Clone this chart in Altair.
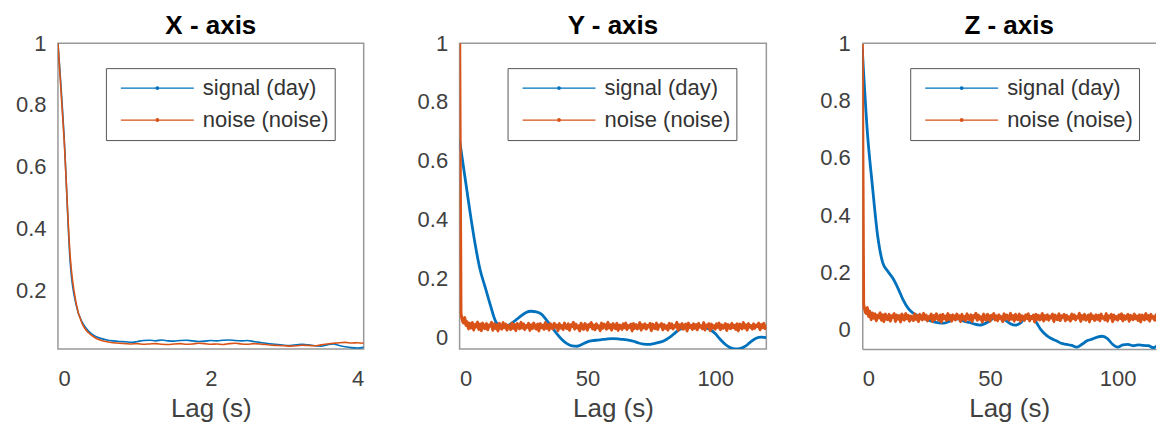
import altair as alt
import pandas as pd

FONT = "Liberation Sans"
BLUE = "#0072BD"
ORANGE = "#D95319"
SERIES = ["signal (day)", "noise (noise)"]

# ---------- X - axis panel (lag step 0.08 s) ----------
x_step = 0.08
x_signal = [
    1.00, 0.70, 0.29, 0.15, 0.095, 0.068, 0.052, 0.044, 0.039, 0.036,
    0.034, 0.033, 0.031, 0.034, 0.037, 0.038, 0.036, 0.039, 0.036, 0.035,
    0.037, 0.038, 0.036, 0.034, 0.035, 0.037, 0.036, 0.038, 0.039, 0.037,
    0.036, 0.037, 0.034, 0.031, 0.028, 0.026, 0.024, 0.022, 0.021, 0.023,
    0.025, 0.023, 0.020, 0.019, 0.023, 0.026, 0.021, 0.017, 0.014, 0.013,
    0.015,
]
x_noise = [
    1.00, 0.69, 0.31, 0.155, 0.090, 0.062, 0.047, 0.038, 0.033, 0.030,
    0.028, 0.027, 0.026, 0.027, 0.025, 0.026, 0.027, 0.025, 0.024, 0.026,
    0.027, 0.025, 0.026, 0.028, 0.027, 0.025, 0.026, 0.024, 0.027, 0.028,
    0.026, 0.025, 0.027, 0.026, 0.024, 0.022, 0.021, 0.020, 0.019, 0.020,
    0.022, 0.021, 0.020, 0.023, 0.026, 0.028, 0.030, 0.031, 0.029, 0.030,
    0.028,
]

# ---------- Y - axis panel ----------
y_sig_step = 2
y_signal = [
    0.67, 0.55, 0.43, 0.32, 0.23, 0.17, 0.11, 0.055, 0.035, 0.035,
    0.045, 0.058, 0.072, 0.084, 0.088, 0.086, 0.078, 0.058, 0.035, 0.012,
    -0.008, -0.022, -0.030, -0.031, -0.024, -0.016, -0.012, -0.010, -0.008, -0.006,
    -0.005, -0.006, -0.008, -0.010, -0.014, -0.020, -0.024, -0.025, -0.022, -0.018,
    -0.012, -0.002, 0.012, 0.026, 0.033, 0.036, 0.037, 0.036, 0.033, 0.026,
    0.012, -0.008, -0.025, -0.036, -0.040, -0.038, -0.030, -0.015, -0.004, 0.000,
    -0.002,
]
y_noise_step = 0.5
y_noise = [
    1.0, 0.082, 0.061, 0.048, 0.066, 0.039, 0.052, 0.028, 0.047, 0.031,
    0.049, 0.024, 0.043, 0.035, 0.051, 0.026, 0.044, 0.022, 0.048, 0.033,
    0.029, 0.046, 0.025, 0.041, 0.037, 0.050, 0.023, 0.045, 0.030, 0.042,
    0.021, 0.047, 0.034, 0.027, 0.049, 0.032, 0.044, 0.024, 0.040, 0.036,
    0.026, 0.048, 0.030, 0.043, 0.022, 0.046, 0.038, 0.028, 0.050, 0.031,
    0.045, 0.025, 0.039, 0.033, 0.047, 0.023, 0.042, 0.029, 0.048, 0.035,
    0.027, 0.044, 0.021, 0.046, 0.032, 0.040, 0.026, 0.049, 0.030, 0.043,
    0.024, 0.045, 0.037, 0.028, 0.047, 0.033, 0.041, 0.022, 0.046, 0.031,
    0.039, 0.025, 0.048, 0.034, 0.029, 0.045, 0.023, 0.042, 0.036, 0.050,
    0.027, 0.044, 0.031, 0.038, 0.021, 0.047, 0.033, 0.026, 0.046, 0.040,
    0.024, 0.043, 0.035, 0.049, 0.028, 0.041, 0.025, 0.045, 0.032, 0.038,
    0.022, 0.048, 0.030, 0.044, 0.036, 0.027, 0.050, 0.031, 0.042, 0.024,
    0.046, 0.034, 0.029, 0.047, 0.023, 0.041, 0.037, 0.026, 0.045, 0.032,
    0.048, 0.025, 0.039, 0.033, 0.044, 0.021, 0.046, 0.030, 0.043, 0.028,
    0.036, 0.049, 0.024, 0.042, 0.031, 0.045, 0.027, 0.040, 0.035, 0.047,
    0.022, 0.044, 0.033, 0.029, 0.048, 0.026, 0.041, 0.037, 0.046, 0.025,
    0.043, 0.030, 0.038, 0.024, 0.047, 0.032, 0.045, 0.028, 0.039, 0.035,
    0.050, 0.023, 0.042, 0.031, 0.046, 0.027, 0.036, 0.044, 0.021, 0.048,
    0.033, 0.040, 0.026, 0.045, 0.030, 0.043, 0.025, 0.047, 0.034, 0.038,
    0.028, 0.049, 0.024, 0.041, 0.036, 0.046, 0.022, 0.044, 0.031, 0.039,
    0.027, 0.045, 0.033, 0.048, 0.025, 0.042, 0.030, 0.037, 0.046, 0.023,
    0.043, 0.035, 0.029, 0.047, 0.032, 0.040, 0.026, 0.045, 0.021, 0.044,
    0.038, 0.028, 0.049, 0.031, 0.042, 0.024, 0.046, 0.034, 0.039, 0.027,
    0.045, 0.030, 0.041, 0.036, 0.048, 0.025, 0.043, 0.032, 0.047, 0.029,
    0.040,
]

# ---------- Z - axis panel ----------
z_sig_step = 2
z_signal = [
    0.98, 0.69, 0.50, 0.33, 0.235, 0.205, 0.18, 0.145, 0.105, 0.075,
    0.058, 0.050, 0.042, 0.034, 0.028, 0.025, 0.024, 0.030, 0.040, 0.038,
    0.030, 0.026, 0.020, 0.017, 0.022, 0.032, 0.045, 0.046, 0.034, 0.022,
    0.017, 0.025, 0.045, 0.047, 0.028, 0.000, -0.018, -0.030, -0.038, -0.047,
    -0.050, -0.054, -0.060, -0.050, -0.038, -0.032, -0.025, -0.022, -0.030, -0.050,
    -0.060, -0.052, -0.050, -0.055, -0.052, -0.054, -0.055, -0.062, -0.050, -0.030,
    -0.010,
]
z_noise_step = 0.5
z_noise = [
    1.0, 0.092, 0.071, 0.058, 0.078, 0.047, 0.065, 0.036, 0.059, 0.041,
    0.056, 0.032, 0.051, 0.043, 0.060, 0.034, 0.053, 0.029, 0.055, 0.040,
    0.036, 0.054, 0.031, 0.049, 0.044, 0.057, 0.030, 0.052, 0.038, 0.050,
    0.028, 0.055, 0.041, 0.034, 0.057, 0.039, 0.051, 0.031, 0.048, 0.043,
    0.033, 0.056, 0.037, 0.050, 0.029, 0.054, 0.045, 0.035, 0.058, 0.038,
    0.052, 0.032, 0.047, 0.040, 0.055, 0.030, 0.050, 0.036, 0.056, 0.042,
    0.034, 0.052, 0.028, 0.054, 0.039, 0.048, 0.033, 0.057, 0.037, 0.051,
    0.031, 0.053, 0.044, 0.035, 0.055, 0.040, 0.049, 0.029, 0.054, 0.038,
    0.047, 0.032, 0.056, 0.041, 0.036, 0.053, 0.030, 0.050, 0.043, 0.058,
    0.034, 0.052, 0.038, 0.046, 0.028, 0.055, 0.040, 0.033, 0.054, 0.048,
    0.031, 0.051, 0.042, 0.057, 0.035, 0.049, 0.032, 0.053, 0.039, 0.046,
    0.029, 0.056, 0.037, 0.052, 0.044, 0.034, 0.058, 0.038, 0.050, 0.031,
    0.054, 0.041, 0.036, 0.055, 0.030, 0.049, 0.045, 0.033, 0.053, 0.039,
    0.056, 0.032, 0.047, 0.040, 0.052, 0.028, 0.054, 0.037, 0.051, 0.035,
    0.043, 0.057, 0.031, 0.050, 0.038, 0.053, 0.034, 0.048, 0.042, 0.055,
    0.029, 0.052, 0.040, 0.036, 0.056, 0.033, 0.049, 0.044, 0.054, 0.032,
    0.051, 0.037, 0.046, 0.031, 0.055, 0.039, 0.053, 0.035, 0.047, 0.042,
    0.058, 0.030, 0.050, 0.038, 0.054, 0.034, 0.043, 0.052, 0.028, 0.056,
    0.040, 0.048, 0.033, 0.053, 0.037, 0.051, 0.032, 0.055, 0.041, 0.046,
    0.035, 0.057, 0.031, 0.049, 0.043, 0.054, 0.029, 0.052, 0.038, 0.047,
    0.034, 0.053, 0.040, 0.056, 0.032, 0.050, 0.037, 0.045, 0.054, 0.030,
    0.051, 0.042, 0.036, 0.055, 0.039, 0.048, 0.033, 0.053, 0.028, 0.052,
    0.046, 0.035, 0.057, 0.038, 0.050, 0.031, 0.054, 0.041, 0.047, 0.034,
    0.053, 0.037, 0.049, 0.043, 0.056, 0.032, 0.051, 0.039, 0.055, 0.036,
    0.048,
]


def frame(sig_step, sig, noise_step, noise):
    rows = []
    for i, v in enumerate(sig):
        rows.append({"lag": round(i * sig_step, 4), "value": v,
                     "series": SERIES[0], "kind": "s"})
    for i, v in enumerate(noise):
        rows.append({"lag": round(i * noise_step, 4), "value": v,
                     "series": SERIES[1], "kind": "n"})
    return pd.DataFrame(rows)


LEGEND_SYMBOL = "M-1,0H1M-0.035,0A0.035,0.035,0,1,0,0.035,0A0.035,0.035,0,1,0,-0.035,0"


def make_legend():
    return alt.Legend(
        title=None, orient="none", legendX=48, legendY=25, direction="vertical",
        fillColor="white", strokeColor="#555555", padding=6, rowPadding=4,
        clipHeight=28, symbolType=LEGEND_SYMBOL, symbolSize=5329, symbolStrokeWidth=1.4,
        symbolOffset=8, labelOffset=8, labelFontSize=22, labelFont=FONT,
        labelColor="#333333", labelLimit=400,
    )


def panel(df, title, xdom, xticks, ydom, yticks, w, h, widths, boxed=True):
    xaxis_kw = dict(values=xticks, title="Lag (s)")
    yaxis_kw = dict(values=yticks, format="~g", title=None)
    if not boxed:
        xaxis_kw.update(domain=True, domainColor="#999999", domainWidth=1.5)
        yaxis_kw.update(domain=True, domainColor="#999999", domainWidth=1.5)
    lines = alt.Chart(df).mark_line(clip=True, interpolate="monotone").encode(
        x=alt.X("lag:Q", scale=alt.Scale(domain=xdom, nice=False, zero=False),
                axis=alt.Axis(**xaxis_kw)),
        y=alt.Y("value:Q", scale=alt.Scale(domain=ydom, nice=False, zero=False),
                axis=alt.Axis(**yaxis_kw)),
        color=alt.Color("series:N", scale=alt.Scale(domain=SERIES, range=[BLUE, ORANGE]),
                        legend=make_legend()),
        strokeWidth=alt.StrokeWidth("kind:N", scale=alt.Scale(domain=["s", "n"], range=widths),
                                    legend=None),
    )
    ttl = alt.TitleParams(title, fontSize=26, fontWeight="bold", font=FONT, color="black",
                          anchor="middle", offset=-7)
    if boxed:
        return lines.properties(width=w, height=h, title=ttl)
    top = alt.Chart(pd.DataFrame({"k": [0]})).mark_rule(color="#999999", strokeWidth=1.5).encode(
        x=alt.value(0), x2=alt.value(w), y=alt.value(0)
    )
    return alt.layer(lines, top).properties(
        width=w, height=h, title=ttl, view=alt.ViewBackground(stroke="transparent")
    )


H = 306
p1 = panel(frame(x_step, x_signal, x_step, x_noise), "X - axis",
           [0, 4], [0, 2, 4], [0.01, 1], [0.2, 0.4, 0.6, 0.8, 1], 306, H, [1.6, 1.6])
p2 = panel(frame(y_sig_step, y_signal, y_noise_step, y_noise), "Y - axis",
           [0, 120], [0, 50, 100], [-0.04, 1], [0, 0.2, 0.4, 0.6, 0.8, 1], 307, H, [2.8, 3.2])
p3 = panel(frame(z_sig_step, z_signal, z_noise_step, z_noise), "Z - axis",
           [0, 115], [0, 50, 100], [-0.066, 1], [0, 0.2, 0.4, 0.6, 0.8, 1], 294, H, [2.8, 3.2],
           boxed=False)

chart = alt.hconcat(p1, p2, p3, spacing=96, bounds="flush").resolve_scale(
    color="independent", strokeWidth="independent"
).resolve_legend(color="independent").properties(
    padding={"left": 6, "top": 4, "right": 0, "bottom": 0}
).configure_view(
    stroke="#999999", strokeWidth=1.5
).configure_axis(
    grid=False, ticks=False, domain=False, labelFont=FONT, labelFontSize=22,
    labelColor="#404040", titleFont=FONT, titleFontSize=26, titleFontWeight="normal",
    titleColor="#404040"
).configure_axisY(
    labelPadding=12
).configure_axisX(
    labelPadding=20, titlePadding=6
)

chart.save("out.html", embed_options={"renderer": "svg", "actions": False})
